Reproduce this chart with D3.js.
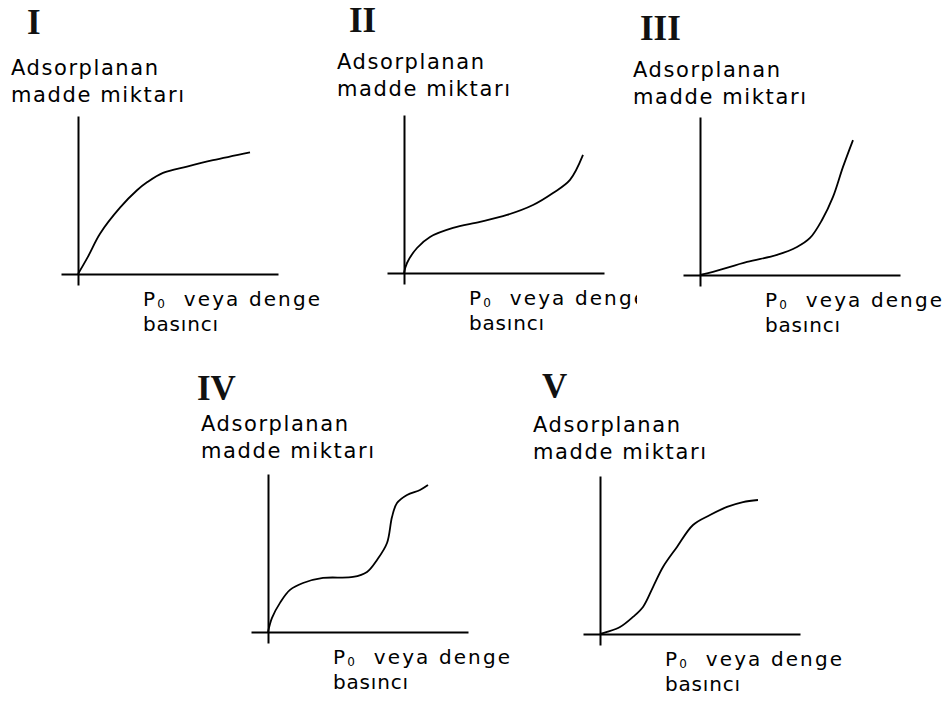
<!DOCTYPE html>
<html>
<head>
<meta charset="utf-8">
<script src="https://cdn.jsdelivr.net/npm/d3@7"></script>
<style>
  body { margin: 0; background: #fff; }
  svg { display: block; background: #fff; }
</style>
</head>
<body>
<svg width="947" height="706"></svg>
<script>
// ---- Dados (unidades arbitrárias 0..10 em cada eixo)
const panelNames = ['I', 'II', 'III', 'IV', 'V'];
const yLabelLines = ['Adsorplanan', 'madde miktarı'];
const xLabelP = 'P';
const xLabelSub = '0';
const xLabelRest = '  veya denge';
const xLabelLine2 = 'basıncı';

const xI = [0, 0.5, 1.1, 2.1, 2.95, 3.45, 4.25, 5.45, 6.75, 8.6];
const yI = [0, 1.1, 2.55, 4.2, 5.3, 5.8, 6.4, 6.8, 7.2, 7.7];

const xII = [0, 0.15, 0.65, 1.3, 2.45, 3.8, 5.15, 6.45, 7.45, 8.3, 8.95];
const yII = [0, 0.63, 1.58, 2.28, 2.85, 3.23, 3.67, 4.3, 5.06, 5.89, 7.47];

const xIII = [0, 0.65, 2.35, 3.85, 4.85, 5.5, 6.1, 6.65, 7.15, 7.65];
const yIII = [0, 0.19, 0.82, 1.27, 1.77, 2.34, 3.48, 4.94, 6.84, 8.54];

const xIV = [0, 0.2, 0.6, 1.1, 1.75, 2.75, 4.25, 4.95, 5.45, 5.95, 6.2, 6.45, 6.95, 7.6, 8.0];
const yIV = [0, 0.89, 1.84, 2.66, 3.1, 3.42, 3.48, 3.8, 4.56, 5.63, 7.28, 8.16, 8.67, 8.99, 9.3];

const xV = [0, 0.35, 1.0, 1.65, 2.15, 2.65, 3.15, 3.85, 4.65, 5.5, 6.35, 7.15, 7.9];
const yV = [0, 0.13, 0.44, 1.08, 1.71, 2.97, 4.24, 5.51, 6.9, 7.53, 8.04, 8.35, 8.48];

const seriesX = [xI, xII, xIII, xIV, xV];
const seriesY = [yI, yII, yIII, yIV, yV];

// ---- Layout (origem de cada painel, posição do numeral e dos rótulos)
const layout = [
    { ox: 78,  oy: 274, nx: 27,  ny: 34,  ly: 75,  clip: null },
    { ox: 404, oy: 273, nx: 349, ny: 32,  ly: 69,  clip: 637 },
    { ox: 700, oy: 275, nx: 640, ny: 40,  ly: 77,  clip: null },
    { ox: 268, oy: 632, nx: 197, ny: 400, ly: 431, clip: null },
    { ox: 600, oy: 634, nx: 542, ny: 398, ly: 432, clip: null }
];

const svg = d3.select('svg');
const defs = svg.append('defs');

const labelFont = '"DejaVu Sans", Verdana, sans-serif';

layout.forEach((p, i) => {
    const g = svg.append('g').attr('class', 'panel');

    // ---- Escalas
    const mapX = d3.scaleLinear().domain([-0.85, 10]).range([p.ox - 17, p.ox + 200]);
    const mapY = d3.scaleLinear().domain([-0.7, 10]).range([p.oy + 11, p.oy - 158]);

    // ---- Eixos
    const xAxis = d3.axisBottom(mapX).tickValues([]).tickSizeOuter(0);
    const yAxis = d3.axisLeft(mapY).tickValues([]).tickSizeOuter(0);

    g.append('g')
        .attr('transform', `translate(0, ${mapY(0)})`)
        .call(xAxis)
        .select('.domain')
        .attr('stroke', '#000')
        .attr('stroke-width', 2);

    g.append('g')
        .attr('transform', `translate(${mapX(0)}, 0)`)
        .call(yAxis)
        .select('.domain')
        .attr('stroke', '#000')
        .attr('stroke-width', 2);

    // ---- Curva
    const pts = seriesX[i].map((v, k) => [v, seriesY[i][k]]);
    g.append('path')
        .datum(pts)
        .attr('fill', 'none')
        .attr('stroke', '#000')
        .attr('stroke-width', 1.8)
        .attr('d', d3.line()
            .x(d => mapX(d[0]))
            .y(d => mapY(d[1]))
            .curve(d3.curveCatmullRom.alpha(0.5)));

    // ---- Numeral romano
    g.append('text')
        .attr('x', p.nx)
        .attr('y', p.ny)
        .attr('font-family', '"Liberation Serif", "Times New Roman", serif')
        .attr('font-weight', 'bold')
        .attr('font-size', 35)
        .attr('fill', '#111')
        .text(panelNames[i]);

    // ---- Rótulo do eixo y
    const lx = mapX(0) - 67;
    [147, 173].forEach((w, k) => {
        g.append('text')
            .attr('x', lx)
            .attr('y', p.ly + k * 27)
            .attr('font-family', labelFont)
            .attr('font-size', 21)
            .attr('textLength', w)
            .attr('lengthAdjust', 'spacing')
            .text(yLabelLines[k]);
    });

    // ---- Rótulo do eixo x
    const xl = g.append('g');
    if (p.clip) {
        defs.append('clipPath')
            .attr('id', 'clip' + i)
            .append('rect')
            .attr('x', 0).attr('y', 0)
            .attr('width', p.clip).attr('height', 706);
        xl.attr('clip-path', `url(#clip${i})`);
    }

    const t1 = xl.append('text')
        .attr('x', mapX(0) + 65)
        .attr('y', mapY(0) + 32)
        .attr('font-family', labelFont)
        .attr('font-size', 20)
        .attr('textLength', 177)
        .attr('lengthAdjust', 'spacing')
        .attr('xml:space', 'preserve')
        .style('white-space', 'pre');
    t1.append('tspan').text(xLabelP);
    t1.append('tspan').attr('font-size', 12).attr('dy', 2).text(xLabelSub);
    t1.append('tspan').attr('dy', -2).text(xLabelRest);

    xl.append('text')
        .attr('x', mapX(0) + 65)
        .attr('y', mapY(0) + 57)
        .attr('font-family', labelFont)
        .attr('font-size', 20)
        .attr('textLength', 75)
        .attr('lengthAdjust', 'spacing')
        .text(xLabelLine2);
});
</script>
</body>
</html>
